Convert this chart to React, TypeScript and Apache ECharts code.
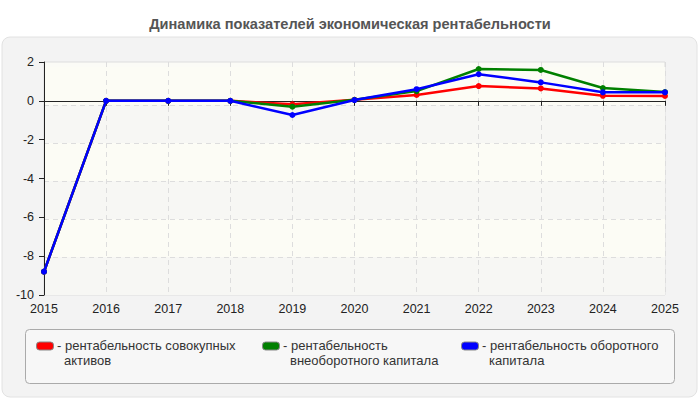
import React, { useEffect, useRef } from "react";
import * as echarts from "echarts";

const years = ["2015", "2016", "2017", "2018", "2019", "2020", "2021", "2022", "2023", "2024", "2025"];

const seriesNames = [
  "рентабельность совокупных активов",
  "рентабельность внеоборотного капитала",
  "рентабельность оборотного капитала",
];

// legend captions, wrapped over two lines
const legendLines = [
  ["- рентабельность совокупных", "активов"],
  ["- рентабельность", "внеоборотного капитала"],
  ["- рентабельность оборотного", "капитала"],
];

const totalAssets = [-8.8, 0, 0, 0, -0.18, 0.05, 0.3, 0.76, 0.64, 0.26, 0.25];
const fixedCapital = [-8.8, 0, 0, 0, -0.3, 0.05, 0.5, 1.64, 1.59, 0.66, 0.45];
const workingCapital = [-8.8, 0, 0, 0, -0.73, 0.04, 0.6, 1.37, 0.95, 0.44, 0.44];

const seriesColors = ["#ff0000", "#008000", "#0000ff"];
const legendLefts = [36, 262, 461];

const FONT = '"Liberation Sans", Arial, sans-serif';

export default function App() {
  const ref = useRef<HTMLDivElement>(null);

  useEffect(() => {
    if (!ref.current) return;
    const chart = echarts.init(ref.current, undefined, { renderer: "svg" });
    const values = [totalAssets, fixedCapital, workingCapital];

    const captionStyle = { fontSize: 13, fontFamily: FONT, fill: "#333", verticalAlign: "middle" };

    // legend box: colour swatch plus a wrapped caption for each series
    const legendItems = seriesNames.flatMap((_, i) => [
      {
        type: "rect",
        z: 5,
        shape: { x: legendLefts[i] + 0.5, y: 342, width: 17, height: 8, r: 3 },
        style: { fill: seriesColors[i], stroke: "#888", lineWidth: 1 },
      },
      {
        type: "text",
        z: 5,
        style: { ...captionStyle, text: legendLines[i][0], x: legendLefts[i] + 21, y: 345.5 },
      },
      {
        type: "text",
        z: 5,
        style: { ...captionStyle, text: legendLines[i][1], x: legendLefts[i] + 28, y: 360 },
      },
    ]);

    chart.setOption({
      animation: false,
      textStyle: { fontFamily: FONT },
      title: {
        text: "Динамика показателей экономическая рентабельности",
        left: "center",
        top: 11,
        textStyle: { fontSize: 14.6, fontWeight: "bold", color: "#555", fontFamily: FONT },
      },
      graphic: [
        {
          type: "rect",
          z: -10,
          shape: { x: 2, y: 37, width: 695, height: 360, r: 8 },
          style: { fill: "#f3f3f3", stroke: "#e2e2e2", lineWidth: 1 },
        },
        {
          type: "rect",
          z: -9,
          shape: { x: 25.5, y: 329.5, width: 649, height: 54, r: 4 },
          style: { fill: "#f7f7f7", stroke: "#aaaaaa", lineWidth: 1 },
        },
        ...legendItems,
      ],
      grid: [
        {
          left: 44,
          right: 35,
          top: 62,
          bottom: 105,
          show: true,
          backgroundColor: "#fbfbf6",
          borderColor: "#dddddd",
          borderWidth: 1,
        },
        { left: 44, right: 35, top: 67, bottom: 105 },
      ],
      xAxis: [
        {
          type: "category",
          gridIndex: 0,
          data: years,
          boundaryGap: false,
          axisLine: { lineStyle: { color: "#222", width: 1 } },
          axisTick: { show: true, length: 5, lineStyle: { color: "#222" } },
          axisLabel: { color: "#222", fontSize: 12.5, margin: 7, fontFamily: FONT },
          splitLine: { show: true, lineStyle: { color: "#dddddd", type: [5, 4] } },
          z: 3,
        },
        {
          type: "category",
          gridIndex: 1,
          data: years,
          boundaryGap: false,
          show: false,
        },
      ],
      yAxis: [
        {
          type: "value",
          gridIndex: 0,
          min: -10,
          max: 2,
          interval: 2,
          axisLine: { show: true, lineStyle: { color: "#222", width: 1 } },
          axisTick: { show: true, length: 5, lineStyle: { color: "#222" } },
          axisLabel: { color: "#222", fontSize: 12.5, margin: 10, fontFamily: FONT },
          splitLine: { show: false },
          z: 3,
        },
        {
          type: "value",
          gridIndex: 1,
          min: -10,
          max: 2,
          interval: 2,
          axisLine: { show: false },
          axisTick: { show: false },
          axisLabel: { show: false },
          splitLine: {
            show: true,
            showMinLine: false,
            showMaxLine: false,
            lineStyle: { color: "#dddddd", type: [5, 4] },
          },
          splitArea: { show: true, areaStyle: { color: ["#f7f7f4", "#fcfcf5"] } },
        },
      ],
      series: seriesNames.map((name, i) => ({
        name,
        type: "line",
        xAxisIndex: 0,
        yAxisIndex: 0,
        data: values[i],
        symbol: "circle",
        symbolSize: 6,
        lineStyle: { color: seriesColors[i], width: 2.5 },
        itemStyle: { color: seriesColors[i] },
        z: 4 + i,
      })),
    });

    return () => chart.dispose();
  }, []);

  return <div ref={ref} style={{ width: 700, height: 400, position: "absolute", left: 0, top: 0, background: "#fff" }} />;
}
